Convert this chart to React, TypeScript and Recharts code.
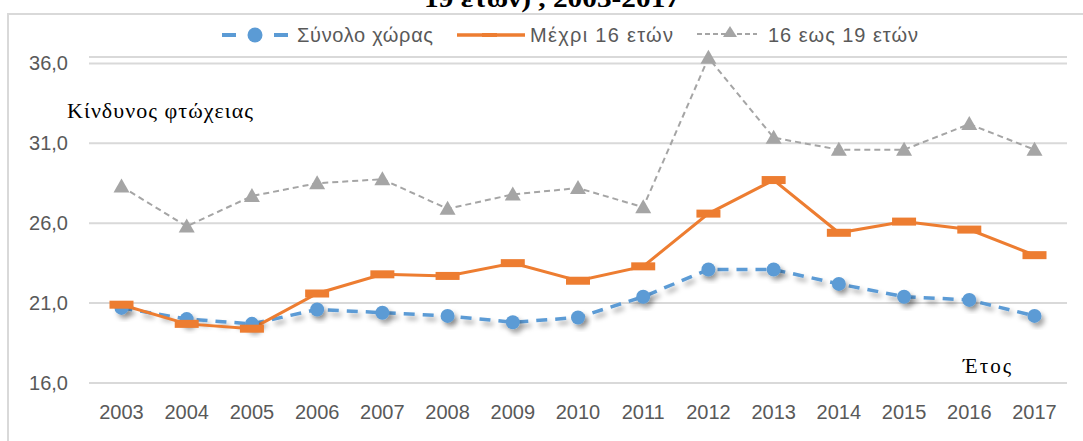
import { LineChart, Line, XAxis, YAxis, CartesianGrid } from "recharts";

const years = ["2003", "2004", "2005", "2006", "2007", "2008", "2009", "2010", "2011", "2012", "2013", "2014", "2015", "2016", "2017"];
const totalCountry = [20.7, 20.0, 19.7, 20.6, 20.4, 20.2, 19.8, 20.1, 21.4, 23.1, 23.1, 22.2, 21.4, 21.2, 20.2];
const under16 = [20.9, 19.7, 19.4, 21.6, 22.8, 22.7, 23.5, 22.4, 23.3, 26.6, 28.7, 25.4, 26.1, 25.6, 24.0];
const age16to19 = [28.3, 25.8, 27.7, 28.5, 28.75, 26.9, 27.8, 28.2, 27.0, 36.35, 31.35, 30.6, 30.6, 32.2, 30.6];
const yTicks = [16, 21, 26, 31, 36];

const BLUE = "#5b9bd5";
const ORANGE = "#ed7d31";
const GRAY = "#a5a5a5";
const TEXT = "#595959";
const FONT = "'Liberation Sans', Arial, sans-serif";
const SERIF = "'Liberation Serif', 'Times New Roman', serif";

const data = years.map((year, i) => ({
  year,
  total: totalCountry[i],
  under16: under16[i],
  teen: age16to19[i],
}));

const fmt = (v: number) => v.toFixed(1).replace(".", ",");

const BlueDot = (props: any) => {
  const { cx, cy, index } = props;
  return <circle key={`b${index}`} cx={cx} cy={cy} r={7} fill={BLUE} filter="url(#blueShadow)" />;
};

const OrangeDot = (props: any) => {
  const { cx, cy, index } = props;
  return <rect key={`o${index}`} x={cx - 12} y={cy - 4} width={24} height={8} fill={ORANGE} />;
};

const GrayDot = (props: any) => {
  const { cx, cy, index } = props;
  return <polygon key={`g${index}`} points={`${cx},${cy - 8} ${cx + 8},${cy + 6} ${cx - 8},${cy + 6}`} fill={GRAY} />;
};

// legend, axis titles and the clipped title line, drawn over the chart
const Overlay = () => (
  <svg width={1083} height={441} style={{ position: "absolute", left: 0, top: 0, pointerEvents: "none" }}>
    <text x={424} y={7} fontFamily={SERIF} fontWeight="bold" fontSize={25} fill="#000" textLength={256} lengthAdjust="spacingAndGlyphs">
      19 ετών) , 2003-2017
    </text>

    <line x1={222} y1={35} x2={236} y2={35} stroke={BLUE} strokeWidth={4} />
    <circle cx={255} cy={35} r={7.5} fill={BLUE} />
    <line x1={274} y1={35} x2={288} y2={35} stroke={BLUE} strokeWidth={4} />
    <text x={297} y={42} fontFamily={FONT} fontSize={20} fill={TEXT} textLength={136} lengthAdjust="spacing">
      Σύνολο χώρας
    </text>

    <line x1={457} y1={35} x2={525} y2={35} stroke={ORANGE} strokeWidth={3.5} />
    <rect x={482} y={33} width={15} height={4} fill={ORANGE} />
    <text x={530} y={42} fontFamily={FONT} fontSize={20} fill={TEXT} textLength={143} lengthAdjust="spacing">
      Μέχρι 16 ετών
    </text>

    <line x1={697} y1={34} x2={757} y2={34} stroke={GRAY} strokeWidth={2} strokeDasharray="5 3" />
    <polygon points="730,26 737,37 723,37" fill={GRAY} />
    <text x={768} y={42} fontFamily={FONT} fontSize={20} fill={TEXT} textLength={150} lengthAdjust="spacing">
      16 εως 19 ετών
    </text>

    <text x={67} y={118} fontFamily={SERIF} fontSize={22} fill="#000" textLength={186} lengthAdjust="spacing">
      Κίνδυνος φτώχειας
    </text>
    <text x={963} y={373} fontFamily={SERIF} fontSize={21} fill="#000" textLength={48} lengthAdjust="spacing">
      Έτος
    </text>
  </svg>
);

export default function App() {
  return (
    <div style={{ position: "absolute", left: 0, top: 0, width: 1083, height: 441, overflow: "hidden", background: "#fff" }}>
      <div
        style={{
          position: "absolute",
          left: 7,
          top: 13,
          width: 1090,
          height: 450,
          border: "2px solid #d9d9d9",
          boxSizing: "border-box",
        }}
      />
      <div style={{ position: "absolute", left: 0, top: 0 }}>
        <LineChart width={1083} height={441} data={data} margin={{ top: 57, right: 16, bottom: 0, left: 0 }}>
          <defs>
            <filter id="blueShadow" x="-50%" y="-50%" width="200%" height="200%">
              <feDropShadow dx={3} dy={4} stdDeviation={2.5} floodColor="#000" floodOpacity={0.35} />
            </filter>
          </defs>
          <CartesianGrid horizontal vertical={false} stroke="#d9d9d9" strokeWidth={2} />
          <XAxis
            dataKey="year"
            axisLine={false}
            tickLine={false}
            height={58}
            tickMargin={16}
            padding={{ left: 32.5, right: 32.5 }}
            tick={{ fill: TEXT, fontSize: 20, fontFamily: FONT }}
            interval={0}
          />
          <YAxis
            domain={[16, 36.4]}
            ticks={yTicks}
            width={89}
            axisLine={false}
            tickLine={false}
            tickMargin={15}
            tickFormatter={fmt}
            tick={{ fill: TEXT, fontSize: 20, fontFamily: FONT }}
          />
          <Line
            dataKey="total"
            stroke={BLUE}
            strokeWidth={3.5}
            strokeDasharray="11 8"
            filter="url(#blueShadow)"
            dot={BlueDot}
            isAnimationActive={false}
          />
          <Line dataKey="under16" stroke={ORANGE} strokeWidth={3} dot={OrangeDot} isAnimationActive={false} />
          <Line dataKey="teen" stroke={GRAY} strokeWidth={2} strokeDasharray="6 4" dot={GrayDot} isAnimationActive={false} />
        </LineChart>
      </div>
      <Overlay />
    </div>
  );
}
